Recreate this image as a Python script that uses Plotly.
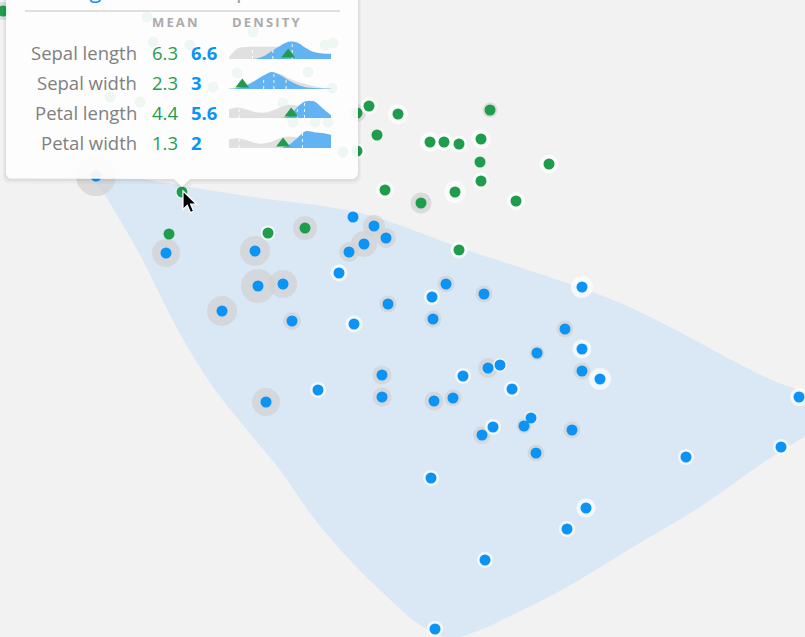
import numpy as np
import plotly.graph_objects as go

W, H = 805, 637

# ---------------- scatter data (projection coordinates) ----------------
green_x = [369, 398, 490, 377, 430, 444, 459, 481, 480, 549, 481, 385, 455, 421, 516, 459, 305, 268, 169, 182,
           357, 357, 3,
           147, 153, 190, 253, 333, 325, 237, 308, 213, 110, 140, 332, 283, 293, 315, 328, 343]
green_y = [106, 114, 110, 135, 142, 142, 144, 139, 162, 164, 181, 190, 192, 203, 201, 250, 228, 233, 234, 192,
           113, 151, 11,
           17, 42, 45, 32, 43, 45, 73, 72, 87, 97, 102, 88, 103, 122, 122, 122, 152]
green_halo = ['w', 'w', 'g', '', 'w', 'w', 'w', 'w', '', 'w', 'w', 'w', 'w', 'g', 'w', 'w', 'g', 'w', '', 'w',
              'g', 'w', 'g',
              'w', 'w', 'w', 'w', 'w', 'w', 'w', 'w', 'w', 'w', 'w', 'w', 'w', 'w', 'w', 'w', 'w']
green_halo_size = [17, 20, 15, 0, 20, 18, 17, 20, 0, 19, 17, 18, 22, 21, 18, 17, 24, 15, 0, 13,
                   18, 16, 18,
                   16, 16, 18, 16, 20, 18, 16, 18, 18, 16, 16, 16, 18, 16, 16, 16, 16]

blue_x = [96, 166, 255, 258, 283, 222, 292, 266, 353, 374, 386, 364, 349, 339, 446, 432, 484, 388, 354, 433,
          582, 565, 537, 582, 582, 600, 488, 500, 463, 382, 318, 382, 434, 453, 512, 531, 524, 493, 482, 572,
          536, 686, 781, 799, 431, 586, 567, 485, 435]
blue_y = [176, 253, 251, 286, 284, 311, 321, 402, 217, 226, 238, 244, 252, 273, 284, 297, 294, 304, 324, 319,
          287, 329, 353, 349, 371, 379, 368, 365, 376, 375, 390, 397, 401, 398, 389, 418, 426, 427, 435, 430,
          453, 457, 447, 397, 478, 508, 529, 560, 629]
blue_halo = ['g', 'g', 'g', 'g', 'g', 'g', 'g', 'g', '', 'g', 'g', 'g', 'g', 'w', 'g', 'w', 'g', 'g', 'w', 'g',
             'w', 'g', 'g', 'w', 'g', 'w', 'g', 'w', 'w', 'g', 'w', 'g', 'g', 'g', 'w', 'w', 'g', 'w', 'g', 'g',
             'g', 'w', 'w', 'w', 'w', 'w', 'w', 'w', 'w']
blue_halo_size = [40, 28, 30, 34, 28, 30, 18, 28, 0, 22, 20, 26, 20, 17, 17, 16, 17, 17, 17, 17,
                  22, 17, 15, 19, 17, 22, 20, 14, 16, 19, 16, 19, 19, 17, 16, 13, 15, 16, 18, 17,
                  17, 16, 16, 18, 16, 19, 16, 16, 16]

# smoothed hull of the highlighted (blue) group
hull_x = [80, 160, 260, 360, 467, 620, 767, 810, 838, 810, 767, 700, 633, 567, 510, 480, 450, 420, 382, 347,
          313, 280, 247, 213, 178, 140, 105]
hull_y = [166, 182, 198, 213, 250, 303, 378, 395, 414, 433, 460, 507, 547, 587, 616, 630, 638, 625, 592, 557,
          517, 470, 430, 387, 330, 255, 195]

# ---------------- tooltip data ----------------
title_species = "Iris virginica"
title_count = "50 samples"
features = ["Sepal length", "Sepal width", "Petal length", "Petal width"]
point_means = ["6.3", "2.3", "4.4", "1.3"]
group_means = ["6.6", "3", "5.6", "2"]

dens_grid = list(np.linspace(0, 1, 13))
dens_all = [
    [0.10, 0.60, 0.68, 0.70, 0.70, 0.70, 0.72, 0.75, 0.70, 0.50, 0.35, 0.30, 0.25],
    [0.02, 0.04, 0.15, 0.35, 0.60, 0.85, 0.85, 0.62, 0.42, 0.28, 0.15, 0.06, 0.03],
    [0.50, 0.60, 0.50, 0.35, 0.30, 0.40, 0.60, 0.75, 0.70, 0.60, 0.45, 0.30, 0.15],
    [0.50, 0.55, 0.45, 0.30, 0.25, 0.35, 0.55, 0.65, 0.60, 0.50, 0.40, 0.30, 0.20],
]
dens_group = [
    [0.00, 0.00, 0.00, 0.02, 0.15, 0.45, 0.75, 0.98, 0.95, 0.65, 0.40, 0.32, 0.30],
    [0.02, 0.05, 0.20, 0.45, 0.75, 0.97, 0.80, 0.50, 0.25, 0.10, 0.05, 0.03, 0.02],
    [0.00, 0.00, 0.00, 0.00, 0.00, 0.00, 0.00, 0.10, 0.60, 0.95, 0.95, 0.55, 0.15],
    [0.00, 0.00, 0.00, 0.00, 0.00, 0.00, 0.00, 0.15, 0.55, 0.95, 0.90, 0.85, 0.75],
]
quartile_t = [[0.23, 0.43, 0.62], [0.34, 0.44, 0.56], [0.10, 0.67, 0.74], [0.10, 0.52, 0.72]]
quartile_h = [[0.68, 0.72, 0.97], [0.62, 0.97, 0.60], [0.58, 0.62, 0.92], [0.55, 0.58, 0.90]]
point_t = [0.58, 0.13, 0.61, 0.53]

# ---------------- styling ----------------
BG = "#f2f2f2"
GREEN = "#1f9d4d"
BLUE = "#0b93f5"
HALO_GRAY = "#d2d2d2"
HULL = "#d9e8f4"
FONT = "Open Sans"

fig = go.Figure()

fig.add_trace(go.Scatter(x=hull_x, y=hull_y, mode="lines", fill="toself", fillcolor=HULL,
                         line=dict(width=0, shape="spline", smoothing=1.0), hoverinfo="skip"))


def halo(xs, ys, kinds, sizes, kind, color):
    sel = [i for i, k in enumerate(kinds) if k == kind]
    return go.Scatter(x=[xs[i] for i in sel], y=[ys[i] for i in sel], mode="markers",
                      marker=dict(size=[sizes[i] for i in sel], color=color, line=dict(width=0)),
                      hoverinfo="skip")


fig.add_trace(halo(green_x, green_y, green_halo, green_halo_size, "g", HALO_GRAY))
fig.add_trace(halo(blue_x, blue_y, blue_halo, blue_halo_size, "g", HALO_GRAY))
fig.add_trace(halo(green_x, green_y, green_halo, green_halo_size, "w", "white"))
fig.add_trace(halo(blue_x, blue_y, blue_halo, blue_halo_size, "w", "white"))
fig.add_trace(go.Scatter(x=green_x, y=green_y, mode="markers",
                         marker=dict(size=11, color=GREEN, line=dict(width=0)), hoverinfo="skip"))
fig.add_trace(go.Scatter(x=blue_x, y=blue_y, mode="markers",
                         marker=dict(size=11, color=BLUE, line=dict(width=0)), hoverinfo="skip"))


# tooltip card (drawn as filled traces so the density charts can sit on top of it)
def card(x0, x1, y0, y1, r, tip_x, tip_w, tip_h):
    pts = []

    def arc(cx, cy, a0, a1):
        for a in np.linspace(a0, a1, 8):
            pts.append((cx + r * np.cos(a), cy + r * np.sin(a)))

    arc(x0 + r, y0 + r, np.pi, 1.5 * np.pi)
    arc(x1 - r, y0 + r, 1.5 * np.pi, 2 * np.pi)
    arc(x1 - r, y1 - r, 0, 0.5 * np.pi)
    pts += [(tip_x + tip_w, y1), (tip_x, y1 + tip_h), (tip_x - tip_w, y1)]
    arc(x0 + r, y1 - r, 0.5 * np.pi, np.pi)
    xs, ys = zip(*pts)
    return list(xs) + [xs[0]], list(ys) + [ys[0]]


for grow, dy, alpha in [(3, 2, 0.03), (1.5, 1, 0.05)]:
    cx, cy = card(6 - grow, 358 + grow, -20, 179 + grow + dy, 7, 182, 8 + grow, 8)
    fig.add_trace(go.Scatter(x=cx, y=cy, mode="lines", fill="toself",
                             fillcolor=f"rgba(0,0,0,{alpha})", line=dict(width=0), hoverinfo="skip"))
cx, cy = card(6, 358, -20, 179, 6, 182, 8, 8)
fig.add_trace(go.Scatter(x=cx, y=cy, mode="lines", fill="toself",
                         fillcolor="rgba(255,255,255,0.93)", line=dict(width=0), hoverinfo="skip"))

# density mini charts, one small subplot per feature
baselines = [59, 89, 118, 148]
DX0, DX1 = 229, 331
SPAN = 20.0
UNIT = 17.5
layout_axes = {}
for i in range(4):
    n = i + 2
    xa, ya = f"x{n}", f"y{n}"
    b = baselines[i]
    layout_axes[f"xaxis{n}"] = dict(domain=[DX0 / W, DX1 / W], range=[0, 1], visible=False,
                                    anchor=ya, fixedrange=True)
    layout_axes[f"yaxis{n}"] = dict(domain=[1 - b / H, 1 - (b - SPAN) / H], range=[0, SPAN / UNIT],
                                    visible=False, anchor=xa, fixedrange=True)
    fig.add_trace(go.Scatter(x=dens_grid, y=dens_all[i], mode="lines", fill="tozeroy",
                             fillcolor="#e0e0e0", line=dict(width=0, shape="spline"),
                             xaxis=xa, yaxis=ya, hoverinfo="skip"))
    fig.add_trace(go.Scatter(x=dens_grid, y=dens_group[i], mode="lines", fill="tozeroy",
                             fillcolor="#62b3f1", line=dict(width=0, shape="spline"),
                             xaxis=xa, yaxis=ya, hoverinfo="skip"))
    for t, h in zip(quartile_t[i], quartile_h[i]):
        fig.add_trace(go.Scatter(x=[t, t], y=[0, h], mode="lines",
                                 line=dict(color="rgba(255,255,255,0.9)", width=1, dash="dot"),
                                 xaxis=xa, yaxis=ya, hoverinfo="skip"))
    fig.add_trace(go.Scatter(x=[point_t[i]], y=[0.26], mode="markers", cliponaxis=False,
                             marker=dict(symbol="triangle-up", size=12, color=GREEN, line=dict(width=0)),
                             xaxis=xa, yaxis=ya, hoverinfo="skip"))


def ann(text, x, y, size, color, xanchor="left"):
    fig.add_annotation(text=text, x=x / W, y=1 - y / H, xref="paper", yref="paper",
                       xanchor=xanchor, yanchor="middle", showarrow=False,
                       font=dict(family=FONT, size=size, color=color))


# title (scrolled mostly out of view at the top, as in the original)
ann(title_species, 25, -11, 22, BLUE)
ann(title_count, 160, -11, 22, "#9a9a9a")
fig.add_shape(type="line", x0=25, x1=340, y0=11, y1=11, xref="x", yref="y",
              line=dict(color="#d6d6d6", width=1.5), layer="above")

ann("<b>M\u2009E\u2009A\u2009N</b>", 175, 22, 13, "#ababab", "center")
ann("<b>D\u2009E\u2009N\u2009S\u2009I\u2009T\u2009Y</b>", 266, 22, 13, "#ababab", "center")

row_y = [53, 83, 113, 142]
for i in range(4):
    ann(features[i], 139, row_y[i], 18.5, "#808080", "right")
    ann(point_means[i], 150, row_y[i], 18.5, GREEN)
    ann(f"<b>{group_means[i]}</b>", 189, row_y[i], 18.5, BLUE)

# mouse cursor
fig.add_shape(type="path", xref="x", yref="y", layer="above",
              path="M 183 191 L 183 209.5 L 187.3 205.3 L 190.4 212.6 L 193.6 211.2 L 190.6 204.2 L 196.6 204.2 Z",
              fillcolor="black", line=dict(color="white", width=1.2))

fig.update_layout(
    width=W, height=H, margin=dict(l=0, r=0, t=0, b=0),
    paper_bgcolor=BG, plot_bgcolor="rgba(0,0,0,0)",
    showlegend=False, hovermode=False,
    xaxis=dict(range=[0, W], visible=False, fixedrange=True),
    yaxis=dict(range=[H, 0], visible=False, fixedrange=True),
    **layout_axes,
)

fig.write_html("out.html", config={"displayModeBar": False})
